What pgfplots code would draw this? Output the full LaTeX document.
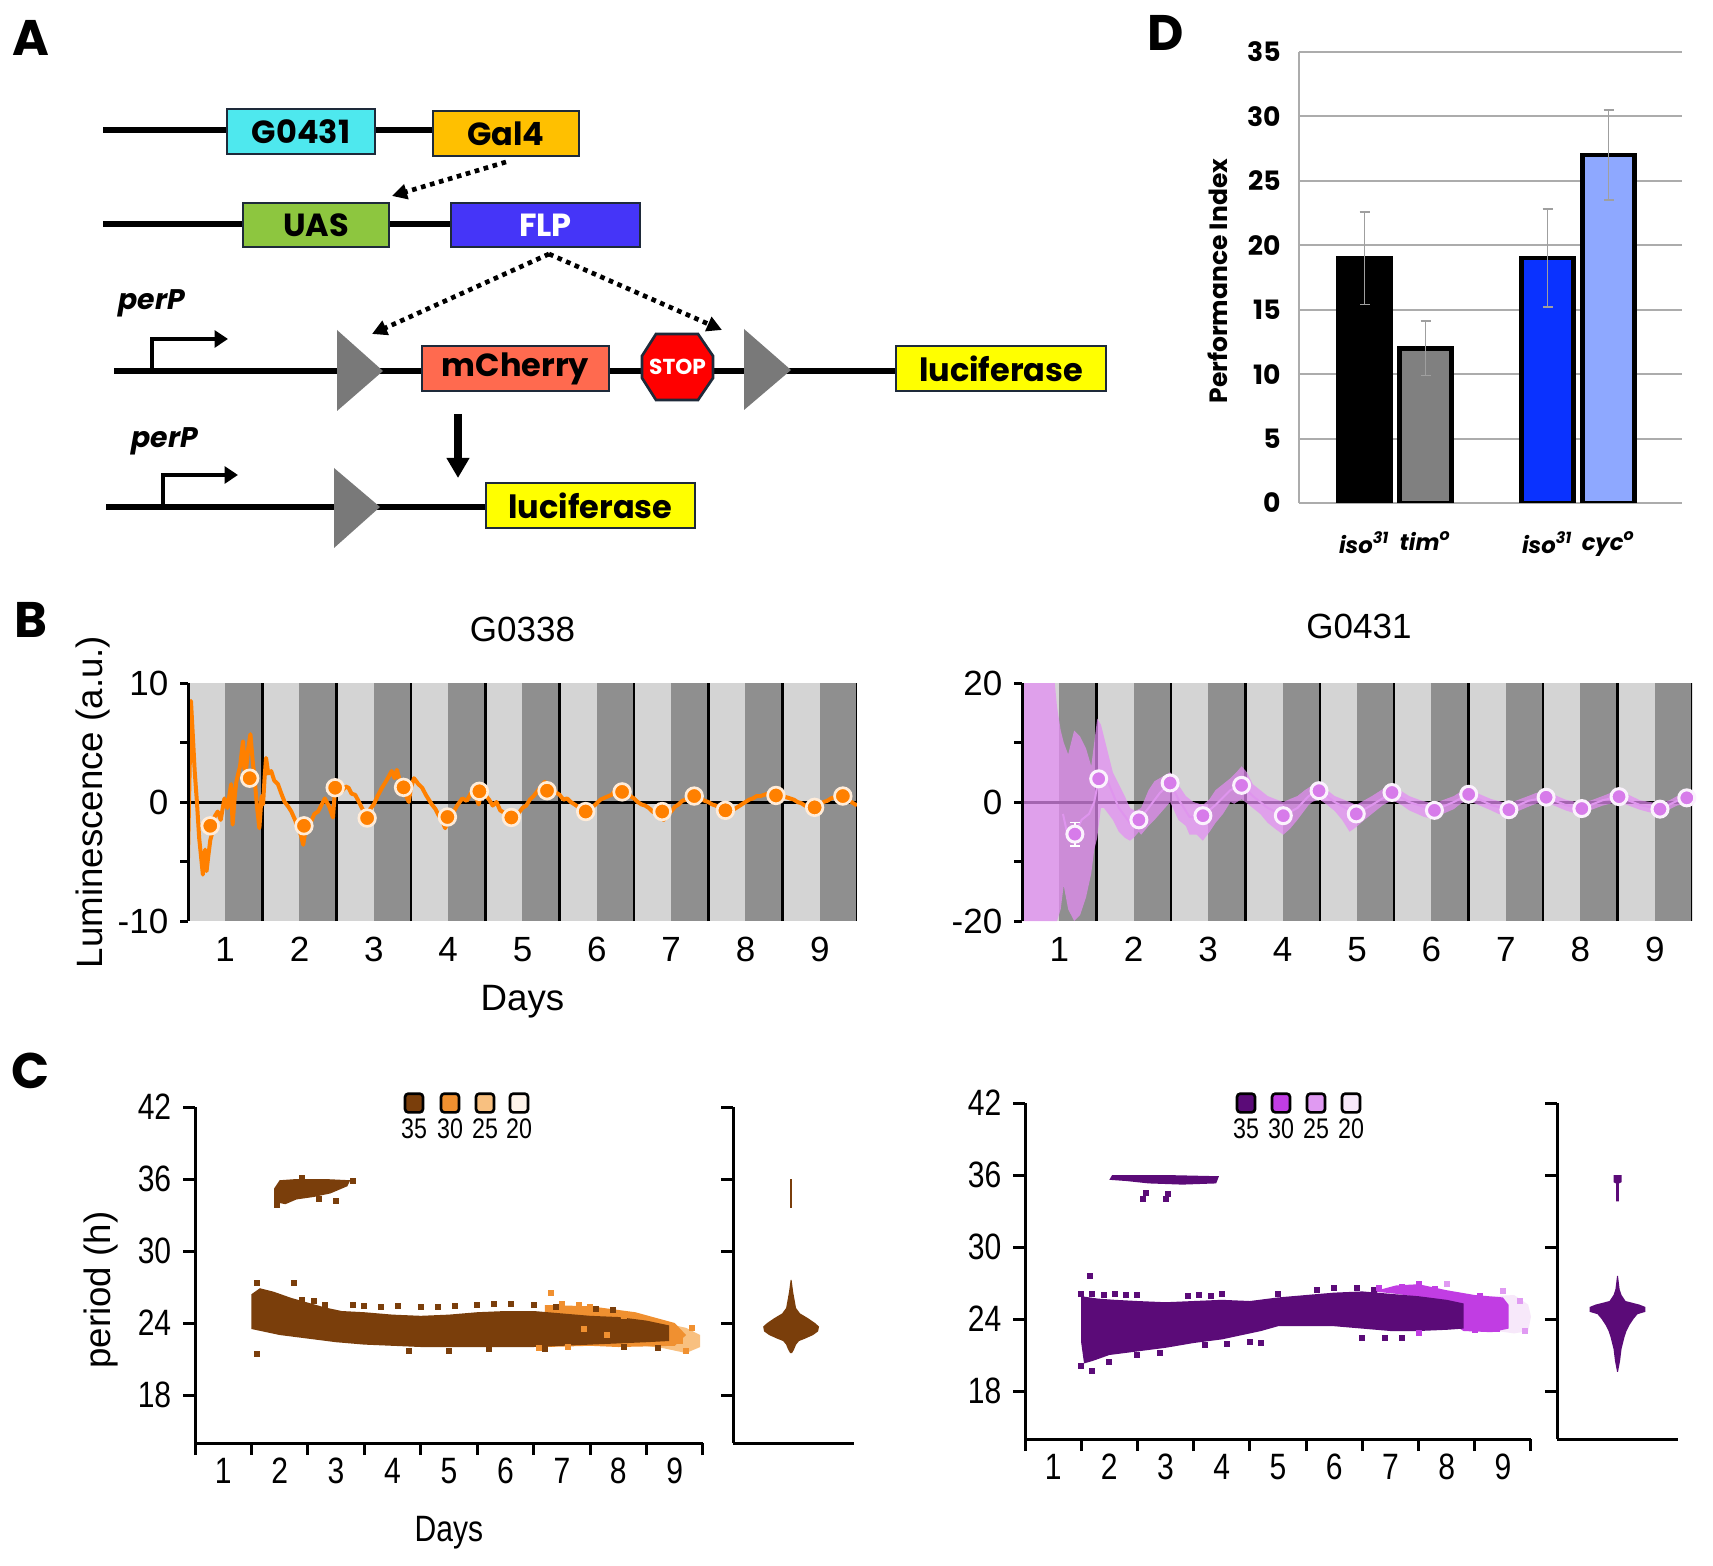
\documentclass[border=0pt]{standalone}
\usepackage{pgfplots}
\pgfplotsset{compat=1.18}
\usepackage{fontspec}
\setmainfont{Liberation Sans}
\newfontfamily\comic{Poppins}
\newfontfamily\cond{Liberation Sans}[FakeStretch=0.82]
\usetikzlibrary{arrows.meta}
\definecolor{lstripe}{HTML}{D4D4D4}
\definecolor{dstripe}{HTML}{8F8F8F}
\definecolor{orng}{HTML}{FF8000}
\definecolor{pinkband}{HTML}{E48CF4}
\definecolor{pinkline}{HTML}{D77BEA}
\definecolor{brA}{HTML}{7A3E0B}
\definecolor{brB}{HTML}{F09030}
\definecolor{brC}{HTML}{F8C080}
\definecolor{brD}{HTML}{FFF4EA}
\definecolor{puA}{HTML}{5B0B78}
\definecolor{puB}{HTML}{C13DE3}
\definecolor{puC}{HTML}{E09AF2}
\definecolor{puD}{HTML}{F7E8FA}
\definecolor{boxedge}{HTML}{1E2A3A}
\definecolor{cyanbox}{HTML}{4EE8EE}
\definecolor{galbox}{HTML}{FFC000}
\definecolor{uasbox}{HTML}{8DC63F}
\definecolor{flpbox}{HTML}{4535F8}
\definecolor{mchbox}{HTML}{FF6A4F}
\definecolor{lucbox}{HTML}{FFFF00}
\definecolor{barB}{HTML}{808080}
\definecolor{barC}{HTML}{0A32FF}
\definecolor{barD}{HTML}{8EA8FF}
\begin{document}
\begin{tikzpicture}
\begin{scope}[x=0.3pt,y=-0.3pt]
\fill[white] (0,0) rectangle (1713,1566);
\coordinate (Bl) at (188,921);
\coordinate (Br) at (1022,921);
\coordinate (Cl) at (195,1443);
\coordinate (Clv) at (733,1443);
\coordinate (Cr) at (1025,1439);
\coordinate (Crv) at (1557,1439);
\coordinate (Dl) at (1299,503);
% ---------------- Panel A schematic ----------------
\draw[line width=1.8pt] (103,130) -- (433,130);
\draw[line width=1.8pt] (103,224) -- (451,224);
\draw[line width=1.8pt] (114,371) -- (896,371);
\draw[line width=1.8pt] (106,507) -- (486,507);
\tikzset{gbox/.style={draw=boxedge, line width=0.8pt}, gtxt/.style={font=\comic\bfseries\fontsize{9.6}{10}\selectfont}}
\draw[gbox, fill=cyanbox] (227,109) rectangle (375,154);
\node[gtxt] at (301,131.5) {G0431};
\draw[gbox, fill=galbox] (433,111) rectangle (579,156);
\node[gtxt] at (506,133.5) {Gal4};
\draw[gbox, fill=uasbox] (243,203) rectangle (389,247);
\node[gtxt] at (316,225) {UAS};
\draw[gbox, fill=flpbox] (451,203) rectangle (640,247);
\node[gtxt, white] at (545.5,225) {FLP};
\draw[gbox, fill=mchbox] (422,346) rectangle (609,391);
\node[gtxt] at (515.5,368.5) {mCherry};
\draw[gbox, fill=lucbox] (896,346) rectangle (1106,391);
\node[gtxt] at (1001,368.5) {luciferase};
\draw[gbox, fill=lucbox] (486,483) rectangle (695,528);
\node[gtxt] at (590.5,505.5) {luciferase};
\fill[gray!95!black] (337,330) -- (383,371) -- (337,411) -- cycle;
\fill[gray!95!black] (744,329) -- (791,370) -- (744,410) -- cycle;
\fill[gray!95!black] (334,468) -- (380,507) -- (334,548) -- cycle;
\draw[fill=red, draw=boxedge, line width=0.8pt] (656,334) -- (698,334) -- (713,356) -- (713,378) -- (698,400) -- (656,400) -- (642,378) -- (642,356) -- cycle;
\node[font=\comic\bfseries\fontsize{6.5}{7}\selectfont, white] at (677.5,367) {STOP};
\tikzset{dotarr/.style={line width=1.4pt, dash pattern=on 1.4pt off 1.4pt, -{Triangle[length=4.5pt,width=4.5pt]}}}
\draw[dotarr] (506,162) -- (392,196);
\draw[dotarr] (549,254) -- (372,334);
\draw[dotarr] (549,254) -- (722,330);
\draw[line width=2.2pt, -{Triangle[length=6pt,width=6.5pt]}] (458,414) -- (458,478);
\draw[line width=1.3pt, -{Triangle[length=4pt,width=5pt]}] (152,371) -- (152,339) -- (228,339);
\draw[line width=1.3pt, -{Triangle[length=4pt,width=5pt]}] (163,507) -- (163,475) -- (238,475);
\node[font=\comic\bfseries\itshape\fontsize{8.5}{9}\selectfont] at (152,303) {perP};
\node[font=\comic\bfseries\itshape\fontsize{8.5}{9}\selectfont] at (165,441) {perP};
% panel letters
\node[font=\comic\bfseries\fontsize{15}{15}\selectfont] at (31,38) {A};
\node[font=\comic\bfseries\fontsize{15}{15}\selectfont] at (31,620) {B};
\node[font=\comic\bfseries\fontsize{15}{15}\selectfont] at (31,1071) {C};
\node[font=\comic\bfseries\fontsize{15}{15}\selectfont] at (1166,33) {D};
% legends of panel C
\tikzset{lg/.style={draw=black, line width=0.8pt, rounded corners=1pt, minimum width=5.4pt, minimum height=5.6pt, inner sep=0pt}, lgt/.style={font=\cond\fontsize{8.5}{9}\selectfont}}
\node[lg, fill=brA] at (414,1103) {}; \node[lgt] at (414,1129) {35};
\node[lg, fill=brB] at (450,1103) {}; \node[lgt] at (450,1129) {30};
\node[lg, fill=brC] at (485,1103) {}; \node[lgt] at (485,1129) {25};
\node[lg, fill=brD] at (519,1103) {}; \node[lgt] at (519,1129) {20};
\node[lg, fill=puA] at (1246,1103) {}; \node[lgt] at (1246,1129) {35};
\node[lg, fill=puB] at (1281,1103) {}; \node[lgt] at (1281,1129) {30};
\node[lg, fill=puC] at (1316,1103) {}; \node[lgt] at (1316,1129) {25};
\node[lg, fill=puD] at (1351,1103) {}; \node[lgt] at (1351,1129) {20};
\end{scope}

\pgfplotsset{
  bpanel/.style={anchor=south west, scale only axis, width=200.7pt, height=71.4pt,
    xmin=0, xmax=9, axis on top,
    axis x line*=bottom, axis y line*=left, x axis line style={draw=none},
    y axis line style={line width=0.9pt},
    xtick={0.5,1.5,...,8.5}, xticklabels={1,2,3,4,5,6,7,8,9},
    xtick style={draw=none}, ytick style={line width=0.9pt, black},
    tick align=outside, major tick length=2.4pt,
    ticklabel style={font=\fontsize{10.5}{12}\selectfont},
    xticklabel style={yshift=1pt},
    title style={font=\fontsize{10.5}{12}\selectfont},
    label style={font=\fontsize{11}{12}\selectfont}},
  cpanel/.style={anchor=south west, scale only axis, height=100.8pt,
    ymin=14, ymax=42, axis x line*=bottom, axis y line*=left,
    axis line style={line width=0.9pt}, tick style={line width=0.9pt, black},
    tick align=outside, major tick length=3.6pt,
    ytick={18,24,30,36,42}},
  cmain/.style={xmin=0, xmax=9,
    xtick={0,1,...,9}, xticklabels={},
    extra x ticks={0.5,1.5,...,8.5}, extra x tick labels={1,2,3,4,5,6,7,8,9},
    extra x tick style={major tick length=0pt, xticklabel style={yshift=-1pt}},
    yticklabels={18,24,30,36,42},
    ticklabel style={font=\cond\fontsize{11}{12}\selectfont}},
  ebar/.style={error bars/.cd, y dir=both, y explicit, error bar style={gray!75, line width=0.5pt}, error mark options={rotate=90, gray!75, mark size=1.5pt, line width=0.5pt}},
}
% ---------------- Panel B left ----------------
\begin{axis}[bpanel, at={(Bl)}, ymin=-10, ymax=10,
  ytick={-10,-5,0,5,10}, yticklabels={-10,,0,,10},
  title={G0338}, title style={at={(0.5,1.139)}, anchor=center},
  xlabel={Days}, xlabel style={at={(axis description cs:0.5,-0.34)}, anchor=center},
  ylabel={Luminescence (a.u.)}, ylabel style={at={(axis description cs:-0.142,0.5)}, anchor=center, rotate=0}]
\fill[lstripe] (axis cs:0,-10) rectangle (axis cs:9,10);
\pgfplotsinvokeforeach{0.5,1.5,2.5,3.5,4.5,5.5,6.5,7.5,8.5}{\fill[dstripe] (axis cs:#1,-10) rectangle ++(axis direction cs:0.5,20);}
\pgfplotsinvokeforeach{1,2,3,4,5,6,7,8,9}{\draw[black, line width=0.75pt] (axis cs:#1,-10) -- (axis cs:#1,10);}
\draw[black, line width=0.9pt] (axis cs:0,0) -- (axis cs:9,0);
\addplot[orng, line width=1.2pt, line join=round] coordinates {
(0,-4.7) (0.02,2) (0.04,8.5) (0.07,5) (0.09,2.6) (0.12,0) (0.15,-3) (0.2,-6.1) (0.23,-4) (0.25,-5.8) (0.27,-4.7) (0.3,-3.2) (0.33,-2.5) (0.36,-1.2) (0.4,-0.8) (0.44,-1.5) (0.49,0.3) (0.53,-0.5) (0.58,1.5) (0.6,-1.9) (0.63,0.5) (0.65,1.7) (0.7,3) (0.74,5.1) (0.76,2.8) (0.78,2.6) (0.81,4.5) (0.84,5.7) (0.87,3.5) (0.9,1.7) (0.93,-0.5) (0.96,-2.2) (0.99,0.5) (1.01,-0.2) (1.03,2) (1.05,3.7) (1.08,2.4) (1.12,2.6) (1.16,1.8) (1.21,1.5) (1.25,0.8) (1.3,0) (1.35,-0.4) (1.39,-0.8) (1.44,-1.5) (1.48,-2.2) (1.52,-2.8) (1.55,-3.6) (1.58,-2.4) (1.64,-1.9) (1.7,-1.0) (1.75,-0.8) (1.8,-0.2) (1.84,0.3) (1.9,-0.4) (1.95,-1.3) (1.98,1.2) (2.03,0.8) (2.07,0.9) (2.12,1.3) (2.16,1.2) (2.2,0.7) (2.25,0.6) (2.3,0) (2.34,-0.5) (2.38,-1.0) (2.41,-1.3) (2.45,-0.6) (2.5,-0.2) (2.55,0.5) (2.61,1.2) (2.67,1.8) (2.74,2.6) (2.78,2.0) (2.81,2.7) (2.85,1.8) (2.88,1.5) (2.93,0.6) (2.97,0) (3.0,1.2) (3.04,2.0) (3.1,1.5) (3.15,1.2) (3.2,0.6) (3.28,-0.2) (3.33,-0.6) (3.37,-1.1) (3.42,-1.6) (3.46,-2.2) (3.5,-1.6) (3.55,-1.1) (3.62,-0.3) (3.69,0.3) (3.75,0.1) (3.82,0.9) (3.87,0.5) (3.91,-0.2) (3.95,0.9) (4.0,0.6) (4.05,0.2) (4.1,-0.3) (4.15,0) (4.2,-0.7) (4.28,-1.0) (4.35,-1.4) (4.4,-1.0) (4.45,-0.9) (4.5,-0.5) (4.55,-0.3) (4.6,0.2) (4.65,0.5) (4.7,0.9) (4.75,1.3) (4.8,1.7) (4.85,1.2) (4.9,1.0) (4.95,0.8) (5.0,0.6) (5.05,0.2) (5.1,0.3) (5.15,0) (5.2,-0.2) (5.27,-0.5) (5.35,-0.8) (5.4,-0.5) (5.45,-0.4) (5.5,-0.1) (5.55,0.2) (5.62,0.4) (5.7,0.6) (5.75,1.0) (5.8,1.2) (5.85,0.9) (5.9,0.8) (5.95,0.5) (6.0,0.3) (6.05,0) (6.1,-0.2) (6.15,-0.3) (6.2,-0.5) (6.25,-0.8) (6.3,-1.0) (6.35,-1.3) (6.4,-1.5) (6.45,-1.0) (6.5,-0.8) (6.55,-0.4) (6.6,-0.2) (6.65,0.1) (6.7,0.2) (6.75,0.6) (6.8,0.8) (6.85,0.4) (6.9,0.3) (6.95,0.1) (7.0,0) (7.05,-0.2) (7.1,-0.3) (7.15,-0.5) (7.2,-0.6) (7.25,-0.9) (7.3,-0.8) (7.35,-0.6) (7.4,-0.4) (7.45,-0.2) (7.5,0) (7.55,0.2) (7.6,0.3) (7.65,0.5) (7.7,0.5) (7.75,0.6) (7.8,0.7) (7.85,0.8) (7.9,0.6) (7.95,0.6) (8.0,0.5) (8.05,0.4) (8.1,0.3) (8.15,0.2) (8.2,0) (8.25,-0.1) (8.3,-0.3) (8.35,-0.4) (8.4,-0.5) (8.45,-0.3) (8.5,-0.2) (8.55,0) (8.6,0.1) (8.65,0.3) (8.7,0.4) (8.75,0.5) (8.8,0.5) (8.85,0.3) (8.9,0.1) (8.95,-0.1) (9.0,-0.3)};
\addplot[only marks, mark=*, mark size=2.5pt, mark options={fill=orng, draw=white!85!orng, line width=0.8pt}] coordinates {
(0.30,-2.0) (0.83,2.0) (1.56,-2.0) (1.98,1.2) (2.41,-1.35) (2.90,1.23) (3.49,-1.26) (3.92,0.9) (4.35,-1.3) (4.83,0.95) (5.35,-0.8) (5.84,0.85) (6.38,-0.8) (6.81,0.5) (7.23,-0.7) (7.91,0.55) (8.43,-0.45) (8.81,0.5)};
\end{axis}
% ---------------- Panel B right ----------------
\begin{axis}[bpanel, at={(Br)}, width=201pt, ymin=-20, ymax=20,
  ytick={-20,-10,0,10,20}, yticklabels={-20,,0,,20},
  title={G0431}, title style={at={(0.503,1.155)}, anchor=center}]
\fill[lstripe] (axis cs:0,-20) rectangle (axis cs:9,20);
\pgfplotsinvokeforeach{0.5,1.5,2.5,3.5,4.5,5.5,6.5,7.5,8.5}{\fill[dstripe] (axis cs:#1,-20) rectangle ++(axis direction cs:0.5,40);}
\pgfplotsinvokeforeach{1,2,3,4,5,6,7,8,9}{\draw[black, line width=0.75pt] (axis cs:#1,-20) -- (axis cs:#1,20);}
\draw[black, line width=0.9pt] (axis cs:0,0) -- (axis cs:9,0);
\addplot[fill=pinkband, fill opacity=0.72, draw=none] coordinates {
(0,20) (0.44,20) (0.47,16) (0.52,12) (0.56,10) (0.62,8) (0.7,12) (0.78,11) (0.86,9) (0.93,6) (0.97,10) (1.01,14) (1.06,13) (1.1,11) (1.16,8) (1.22,5) (1.3,3) (1.38,1) (1.45,-1) (1.52,-1.5) (1.6,-1) (1.7,2) (1.78,3.5) (1.85,4) (1.92,4.5) (1.99,5) (2.05,4) (2.12,2.5) (2.2,1) (2.3,0) (2.43,-0.5) (2.52,0.5) (2.6,2) (2.7,3) (2.8,4) (2.88,5) (2.95,6) (3.02,5) (3.1,3) (3.2,2) (3.3,1) (3.4,0.5) (3.51,0) (3.6,0.5) (3.7,1) (3.8,2) (3.9,2.8) (3.99,3.2) (4.1,2.0) (4.2,1) (4.3,0.5) (4.4,0) (4.49,-0.5) (4.6,0.3) (4.7,1) (4.85,2.2) (4.97,2.9) (5.1,1.8) (5.2,1) (5.35,0.3) (5.54,-0.3) (5.65,0.3) (5.8,1) (5.9,1.8) (6.0,2.3) (6.15,1.3) (6.3,0.5) (6.54,-0.3) (6.65,0.3) (6.8,1) (6.9,1.5) (7.04,1.9) (7.15,1.2) (7.3,0.4) (7.52,-0.2) (7.65,0.3) (7.8,1) (7.9,1.5) (8.02,2.0) (8.15,1.2) (8.3,0.3) (8.57,-0.3) (8.7,0.3) (8.8,1) (8.9,1.5) (9.0,1.6)
(9.0,-0.2) (8.9,-0.3) (8.8,-0.6) (8.7,-1.2) (8.57,-2.2) (8.45,-1.8) (8.3,-1.3) (8.15,-0.6) (8.02,0) (7.9,-0.3) (7.8,-0.6) (7.65,-1.3) (7.52,-2.1) (7.4,-1.8) (7.3,-1.4) (7.15,-0.6) (7.04,-0.1) (6.9,-0.3) (6.8,-0.8) (6.65,-1.6) (6.54,-2.4) (6.4,-2.0) (6.3,-1.4) (6.15,-0.6) (6.0,0.2) (5.9,-0.2) (5.8,-1.2) (5.65,-2.0) (5.54,-2.9) (5.4,-2.5) (5.2,-1.4) (5.1,-0.5) (4.97,0.3) (4.85,-0.5) (4.7,-2) (4.6,-3) (4.49,-4.2) (4.4,-5) (4.3,-3) (4.2,-1.5) (4.1,-0.5) (3.99,0.5) (3.9,0) (3.85,-0.5) (3.7,-3) (3.6,-4.5) (3.51,-5.5) (3.4,-4.5) (3.3,-3.5) (3.2,-2) (3.1,-1) (2.95,0.5) (2.85,-0.3) (2.8,0) (2.7,-2) (2.6,-3.5) (2.52,-5) (2.43,-6.5) (2.35,-5.5) (2.25,-5.5) (2.2,-4) (2.1,-3) (1.99,0) (1.92,-1) (1.85,-2) (1.78,-3) (1.7,-4) (1.6,-5.5) (1.57,-5) (1.5,-6) (1.45,-6.5) (1.38,-6) (1.3,-5) (1.22,-3) (1.16,-2) (1.1,-1) (1.06,-1) (1.01,-6) (0.97,-8) (0.93,-12) (0.86,-16) (0.78,-19) (0.7,-20) (0.62,-18) (0.56,-14) (0.52,-18) (0.47,-20) (0.44,-20) (0,-20)} -- cycle;
\addplot[pinkline!80!white, line width=0.6pt] coordinates {
(0.55,-2) (0.62,-6) (0.71,-5.4) (0.8,-3) (0.9,-2) (0.97,0) (1.03,3.9) (1.1,5) (1.2,2) (1.3,-1) (1.45,-3.5) (1.57,-3.0) (1.7,-1) (1.85,1.5) (1.99,3.2) (2.1,0.5) (2.25,-2.5) (2.43,-2.3) (2.6,-0.5) (2.8,2) (2.95,2.8) (3.1,1) (3.3,-1) (3.51,-2.3) (3.7,-1) (3.85,1) (3.99,1.9) (4.2,0) (4.49,-2.0) (4.7,-0.5) (4.97,1.6) (5.2,0) (5.54,-1.4) (5.8,0) (6.0,1.3) (6.3,-0.5) (6.54,-1.3) (6.8,0.2) (7.04,0.8) (7.3,-0.5) (7.52,-1.1) (7.8,0.3) (8.02,0.9) (8.3,-0.5) (8.57,-1.2) (8.8,0.2) (8.93,0.7)};
\addplot[only marks, mark=*, mark size=2.4pt, mark options={fill=pinkline, draw=white!90!pinkline, line width=0.9pt},
  error bars/.cd, y dir=both, y explicit, error bar style={white, line width=0.6pt}, error mark options={rotate=90, white, mark size=1.5pt}] coordinates {
(0.71,-5.4) +- (0,2.0) (1.03,3.9) +- (0,0) (1.57,-3.0) +- (0,0) (1.99,3.2) +- (0,0) (2.43,-2.3) +- (0,0) (2.95,2.8) +- (0,0) (3.51,-2.3) +- (0,0) (3.99,1.9) +- (0,0) (4.49,-2.0) +- (0,0) (4.97,1.6) +- (0,0) (5.54,-1.4) +- (0,0) (6.0,1.3) +- (0,0) (6.54,-1.3) +- (0,0) (7.04,0.8) +- (0,0) (7.52,-1.1) +- (0,0) (8.02,0.9) +- (0,0) (8.57,-1.2) +- (0,0) (8.93,0.7) +- (0,0)};
\end{axis}
% ---------------- Panel C left ----------------
\begin{axis}[cpanel, cmain, at={(Cl)}, width=152.4pt,
  xlabel={Days}, xlabel style={font=\cond\fontsize{11}{12}\selectfont, at={(axis description cs:0.5,-0.268)}, anchor=center},
  ylabel={period (h)}, ylabel style={font=\fontsize{11}{12}\selectfont, at={(axis description cs:-0.185,0.455)}, anchor=center}]
\addplot[fill=brC, draw=none] coordinates {(7.8,23.8) (8.3,24.0) (8.7,23.6) (8.95,23.0) (8.95,22.0) (8.7,21.5) (8.3,21.9) (7.8,22.2)} -- cycle;
\addplot[fill=brB, draw=none] coordinates {(6.2,25.5) (7.0,25.4) (7.8,24.9) (8.5,24.0) (8.7,23.0) (8.5,22.1) (7.5,22.0) (7.0,22.1) (6.2,22.0)} -- cycle;
\addplot[fill=brA, draw=none] coordinates {
(1.0,23.5) (1.0,26.4) (1.15,26.9) (1.4,26.6) (1.7,26.1) (2.0,25.7) (2.3,25.3) (2.6,25.0) (3.0,24.9) (3.5,24.7) (4.0,24.6) (4.5,24.7) (5.0,24.9) (5.5,25.0) (6.0,25.0) (6.5,24.8) (7.0,24.6) (7.5,24.5) (8.0,24.2) (8.4,23.8)
(8.4,22.5) (8.0,22.4) (7.5,22.3) (7.0,22.2) (6.5,22.1) (6.0,22.0) (5.5,22.0) (5.0,22.0) (4.5,22.0) (4.0,22.0) (3.5,22.1) (3.0,22.2) (2.5,22.4) (2.0,22.7) (1.5,23.0) (1.2,23.3)} -- cycle;
\addplot[fill=brA, draw=none] coordinates {(1.4,34.1) (1.4,35.2) (1.5,35.9) (1.8,36.0) (2.3,36.0) (2.75,35.9) (2.7,35.4) (2.4,34.8) (2.1,34.5) (1.8,34.3) (1.6,33.9)} -- cycle;
\addplot[only marks, mark=square*, mark size=0.7pt, brA] coordinates {
(1.1,27.3) (1.75,27.3) (1.1,21.4) (1.9,25.9) (2.1,25.8) (2.3,25.5) (2.8,25.5) (3.0,25.4) (3.3,25.3) (3.6,25.4) (4.0,25.3) (4.3,25.3) (4.6,25.4) (5.0,25.5) (5.3,25.6) (5.6,25.6) (6.0,25.5) (6.4,25.3) (7.1,25.2) (7.4,25.1) (3.8,21.7) (4.5,21.7) (5.2,21.8) (6.2,21.8) (7.6,22.0) (8.2,21.9) (1.45,33.8) (2.2,34.3) (2.5,34.2) (2.8,35.8) (1.9,36.1)};
\addplot[only marks, mark=square*, mark size=0.7pt, brB] coordinates {
(6.3,26.5) (6.5,25.6) (6.8,25.5) (7.0,25.3) (6.6,22.0) (6.1,21.9) (8.6,22.5) (8.8,23.6) (8.7,21.7) (7.6,24.6) (7.3,23.0) (6.9,23.5)};
\end{axis}
\begin{axis}[cpanel, at={(Clv)}, width=36.3pt, xmin=0, xmax=1, xtick=\empty, yticklabels={}]
\addplot[fill=brA, draw=none] coordinates {
(0.488,21.5) (0.505,21.8) (0.521,22.2) (0.546,22.5) (0.596,22.7) (0.662,23.0) (0.703,23.3) (0.711,23.7) (0.678,24.0) (0.620,24.4) (0.554,24.8) (0.521,25.25) (0.497,26.6) (0.484,27.6)
(0.476,27.6) (0.463,26.6) (0.439,25.25) (0.406,24.8) (0.340,24.4) (0.282,24.0) (0.249,23.7) (0.257,23.3) (0.298,23.0) (0.364,22.7) (0.414,22.5) (0.439,22.2) (0.455,21.8) (0.472,21.5)} -- cycle;
\addplot[fill=brA, draw=none] coordinates {(0.470,33.6) (0.470,36.0) (0.490,36.0) (0.490,33.6)} -- cycle;
\end{axis}
% ---------------- Panel C right ----------------
\begin{axis}[cpanel, cmain, at={(Cr)}, width=151.8pt]
\addplot[fill=puD, draw=none] coordinates {(8.3,25.9) (8.7,26.0) (8.95,25.2) (9.0,24.2) (8.95,23.0) (8.7,22.8) (8.4,23.0)} -- cycle;
\addplot[fill=puB, draw=none] coordinates {(6.2,26.3) (6.6,26.8) (7.0,26.9) (7.5,26.4) (8.0,26.0) (8.5,25.8) (8.6,25.2) (8.6,23.2) (8.3,22.9) (7.8,23.0) (7.6,23.6) (7.7,25.0) (7.2,25.7) (6.6,26.1)} -- cycle;
\addplot[fill=puA, draw=none] coordinates {
(1.0,22.0) (1.0,25.9) (1.3,25.7) (1.6,25.6) (2.0,25.5) (2.5,25.4) (3.0,25.5) (3.5,25.6) (4.0,25.5) (4.5,25.8) (5.0,26.0) (5.5,26.2) (6.0,26.3) (6.5,26.1) (7.0,25.9) (7.5,25.6) (7.8,25.3)
(7.8,23.2) (7.5,23.1) (7.0,23.0) (6.5,23.0) (6.0,23.2) (5.5,23.4) (5.0,23.4) (4.5,23.4) (4.2,23.0) (4.0,22.8) (3.5,22.3) (3.0,22.0) (2.5,21.6) (2.0,21.3) (1.5,21.0) (1.2,20.5) (1.05,20.3)} -- cycle;
\addplot[fill=puA, draw=none] coordinates {(1.5,35.6) (1.55,36.0) (2.5,36.0) (3.45,35.9) (3.4,35.3) (2.8,35.2) (2.2,35.3) (1.8,35.5)} -- cycle;
\addplot[only marks, mark=square*, mark size=0.7pt, puA] coordinates {
(1.15,27.6) (1.0,26.1) (1.2,26.1) (1.4,26.0) (1.6,26.1) (1.8,26.0) (2.0,26.0) (2.9,25.9) (3.1,26.0) (3.3,25.9) (3.5,26.1) (4.5,26.1) (5.2,26.4) (5.5,26.6) (5.9,26.6) (6.2,26.4) (1.0,20.1) (1.2,19.7) (1.5,20.4) (2.0,21.0) (2.4,21.2) (3.2,21.8) (3.6,21.9) (4.0,22.1) (4.2,22.0) (6.0,22.4) (6.4,22.4) (6.7,22.4) (2.1,34.0) (2.5,34.0) (2.55,34.4) (2.15,34.5)};
\addplot[only marks, mark=square*, mark size=0.7pt, puB] coordinates {
(6.3,26.6) (6.7,26.7) (7.0,26.9) (7.3,26.5) (7.0,22.8) (7.8,25.7) (8.1,25.9) (8.0,23.1) (8.4,23.2)};
\addplot[only marks, mark=square*, mark size=0.7pt, puC] coordinates {
(7.5,26.9) (8.5,26.3) (8.8,25.5) (8.9,23.0)};
\end{axis}
\begin{axis}[cpanel, at={(Crv)}, width=36.3pt, xmin=0, xmax=1, xtick=\empty, yticklabels={}]
\addplot[fill=puA, draw=none] coordinates {
(0.504,19.6) (0.521,20.5) (0.533,21.5) (0.558,22.5) (0.574,23.0) (0.599,23.5) (0.632,24.0) (0.665,24.4) (0.731,24.6) (0.731,25.0) (0.682,25.2) (0.566,25.5) (0.533,26.0) (0.517,26.5) (0.504,27.6)
(0.496,27.6) (0.483,26.5) (0.467,26.0) (0.434,25.5) (0.318,25.2) (0.269,25.0) (0.269,24.6) (0.335,24.4) (0.368,24.0) (0.401,23.5) (0.426,23.0) (0.442,22.5) (0.467,21.5) (0.479,20.5) (0.496,19.6)} -- cycle;
\addplot[fill=puA, draw=none] coordinates {(0.488,33.8) (0.488,35.3) (0.467,35.4) (0.467,36.0) (0.533,36.0) (0.533,35.4) (0.512,35.3) (0.512,33.8)} -- cycle;
\end{axis}
% ---------------- Panel D ----------------
\begin{axis}[at={(Dl)}, anchor=south west, scale only axis, width=114.9pt, height=135.3pt,
  xmin=-0.074, xmax=6.205, ymin=0, ymax=35,
  ytick={0,5,...,35}, yticklabels={0,5,10,15,20,25,30,35},
  ymajorgrids, grid style={gray!65, line width=0.6pt},
  axis x line*=bottom, axis y line*=left, axis line style={gray!65, line width=0.6pt},
  xtick={1,2,4,5},
  xticklabels={{\itshape iso\textsuperscript{31}}, {\itshape tim\textsuperscript{o}}, {\itshape iso\textsuperscript{31}}, {\itshape cyc\textsuperscript{o}}},
  major tick length=0pt,
  ticklabel style={font=\comic\bfseries\fontsize{8}{9}\selectfont},
  xticklabel style={font=\comic\bfseries\fontsize{6.8}{8}\selectfont, yshift=-5pt},
  yticklabel style={xshift=-2pt},
  ylabel={Performance Index}, ylabel style={font=\comic\bfseries\fontsize{7.5}{9}\selectfont, at={(axis description cs:-0.211,0.492)}, anchor=center},
  ybar, bar width=0.85, bar shift=0pt]
\addplot[fill=black, draw=black, line width=1.3pt, ebar] coordinates {(1,19) +- (0,3.6)};
\addplot[fill=barB, draw=black, line width=1.3pt, ebar] coordinates {(2,12) +- (0,2.1)};
\addplot[fill=barC, draw=black, line width=1.3pt, ebar] coordinates {(4,19) +- (0,3.8)};
\addplot[fill=barD, draw=black, line width=1.3pt, ebar] coordinates {(5,27) +- (0,3.5)};
\end{axis}
\pgfresetboundingbox
\path[use as bounding box] (0,0) rectangle (513.9pt,-469.8pt);
\end{tikzpicture}
\end{document}
